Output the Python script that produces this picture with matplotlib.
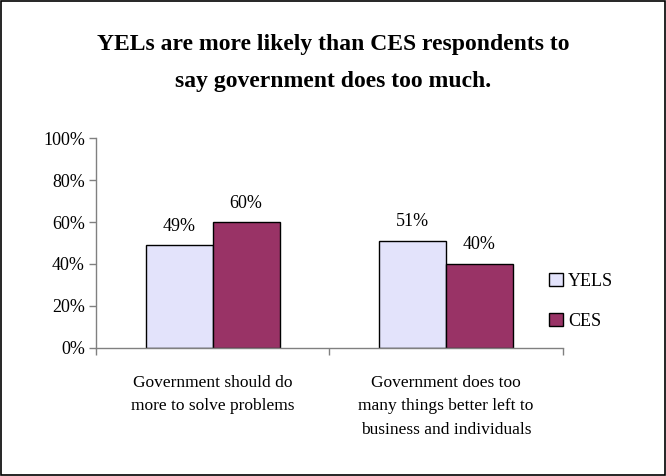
import matplotlib

matplotlib.use("Agg")
import matplotlib.pyplot as plt
from matplotlib.patches import Rectangle
import numpy as np

plt.rcParams["font.family"] = ["Liberation Serif", "DejaVu Serif"]

categories = [
    "Government should do\nmore to solve problems",
    "Government does too\nmany things better left to\nbusiness and individuals",
]
series_names = ["YELS", "CES"]
yels = [49, 51]
ces = [60, 40]
colors = ["#E3E3FB", "#993366"]
yticks = [0, 20, 40, 60, 80, 100]

fig = plt.figure(figsize=(6.66, 4.76), dpi=100)
ax = fig.add_axes([0.144, 0.269, 0.701, 0.441])

x = np.arange(len(categories))
w = 0.287
bars = []
for i, (vals, col) in enumerate(zip([yels, ces], colors)):
    b = ax.bar(x + (i - 0.5) * w, vals, width=w, color=col,
               edgecolor="black", linewidth=1.0, label=series_names[i])
    bars.append(b)
    for rect, v in zip(b, vals):
        ax.text(rect.get_x() + rect.get_width() / 2, v + 5, f"{v}%",
                ha="center", va="bottom", fontsize=13)

ax.set_xlim(-0.5, len(categories) - 0.5)
ax.set_ylim(0, 100)
ax.set_yticks(yticks)
ax.set_yticklabels([f"{t}%" for t in yticks], fontsize=13)
ax.set_xticks(np.arange(len(categories) + 1) - 0.5)
ax.set_xticklabels([])
ax.tick_params(axis="both", direction="out", length=5, color="#808080", width=1)
ax.tick_params(axis="y", pad=3)
for s in ["top", "right"]:
    ax.spines[s].set_visible(False)
for s in ["left", "bottom"]:
    ax.spines[s].set_color("#808080")
    ax.spines[s].set_linewidth(1)

# category names sit below the axis as multi-line text
for xi, lab in zip(x, categories):
    ax.text(xi, -13, lab, ha="center", va="top", fontsize=12.5,
            linespacing=1.6, transform=ax.transData)

fig.text(0.5, 0.868, "YELs are more likely than CES respondents to\nsay government does too much.",
         ha="center", va="center", fontsize=17, fontweight="bold", linespacing=2.0)

leg = fig.legend(handles=bars, labels=series_names, loc="center left",
                 bbox_to_anchor=(0.8, 0.367), frameon=False, fontsize=13,
                 handlelength=0.75, handleheight=0.75, handletextpad=0.3,
                 labelspacing=1.3)

fig.patches.append(Rectangle((0.002, 0.002), 0.996, 0.995, transform=fig.transFigure,
                             fill=False, edgecolor="black", linewidth=1.2))

fig.savefig("out.png", dpi=100)
